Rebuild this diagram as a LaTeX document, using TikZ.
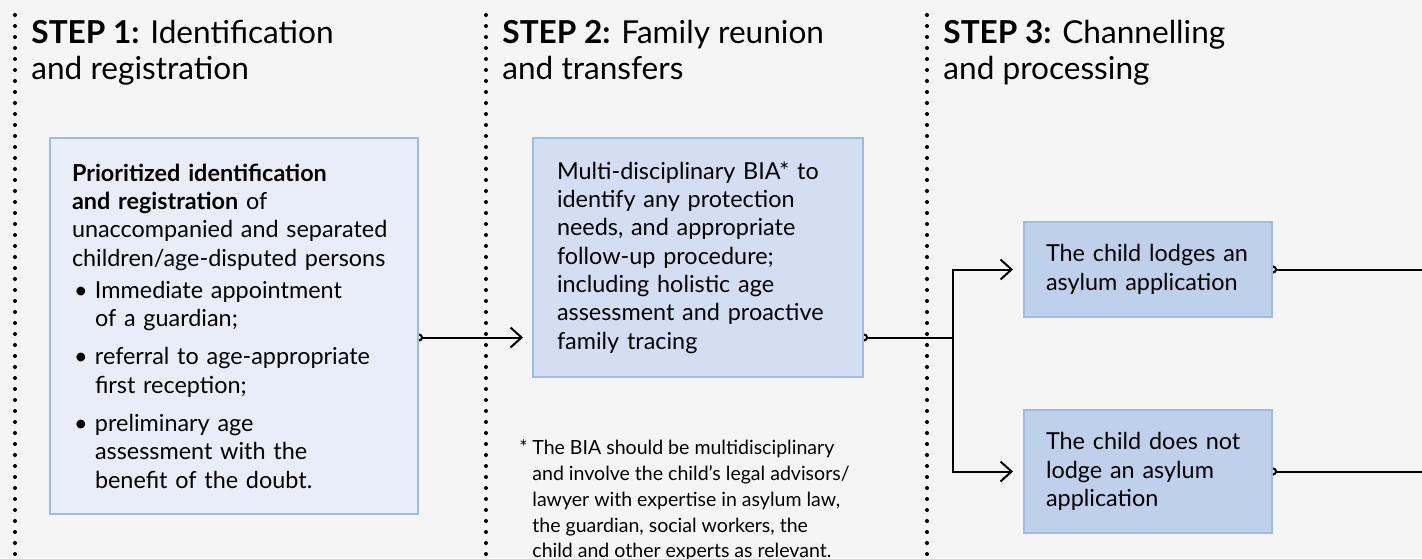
\documentclass[tikz,border=0pt]{standalone}
\usepackage{fontspec}
\setmainfont{Lato}
\usetikzlibrary{positioning,arrows.meta,backgrounds,calc}

\definecolor{pagebg}{HTML}{F5F5F5}
\definecolor{boxline}{HTML}{9EBBE5}
\definecolor{fillone}{HTML}{E9EDF8}
\definecolor{filltwo}{HTML}{D3DEF2}
\definecolor{fillthree}{HTML}{BFD0EB}

\newcommand{\bul}{\makebox[11.5pt][l]{\hspace{1pt}\textbullet}}
\newcommand{\bulgap}{\hspace*{11.5pt}}

\tikzset{
  stepbox/.style={draw=boxline, line width=1pt, anchor=north west, align=left,
    inner ysep=0pt, font=\fontsize{11.7}{14.15}\selectfont},
  steptitle/.style={anchor=base west, align=left, inner sep=0pt,
    font=\fontsize{15.8}{18}\selectfont},
  stepline/.style={line width=2pt, line cap=round, dash pattern=on 0pt off 5.5pt},
  wire/.style={line width=1pt},
  conn/.style={wire, {Circle[open,length=4pt]}-{Straight Barb[length=5.5pt,width=10pt]},
    shorten <=-2pt, shorten >=4.5pt},
  tail/.style={wire, {Circle[open,length=4pt]}-, shorten <=-2pt},
  head/.style={wire, -{Straight Barb[length=5.5pt,width=10pt]}, shorten >=5pt}
}

\begin{document}
\begin{tikzpicture}[x=0.5pt,y=-0.5pt]
\useasboundingbox (0,0) rectangle (1422,558);

% step borders
\foreach \x in {15,486,927}{
	\draw[stepline] (\x,15) -- (\x,562);
}

% headings (base = last line)
\node[steptitle] (stepone) at (31,79) {\textbf{STEP 1:} Identification\\and registration};
\node[steptitle] (steptwo) at (502,79) {\textbf{STEP 2:} Family reunion\\and transfers};
\node[steptitle] (stepthree) at (943,79) {\textbf{STEP 3:} Channelling\\and processing};

% step 1
\node[stepbox, fill=fillone, text width=162pt, inner xsep=11pt, minimum height=188pt] (identify) at (49,137) {%
\textbf{Prioritized identification}\\
\textbf{and registration} of\\
unaccompanied and separated\\
children/age-disputed persons\\[2pt]
\bul Immediate appointment\\
\bulgap of a guardian;\\[5pt]
\bul referral to age-appropriate\\
\bulgap first reception;\\[5pt]
\bul preliminary age\\
\bulgap assessment with the\\
\bulgap benefit of the doubt.};

% step 2
\node[stepbox, fill=filltwo, text width=141pt, inner xsep=12pt, minimum height=119.5pt] (assess) at (532,137) {%
Multi-disciplinary BIA* to\\
identify any protection\\
needs, and appropriate\\
follow-up procedure;\\
including holistic age\\
assessment and proactive\\
family tracing};

\node[anchor=base west, align=left, inner sep=0pt, font=\fontsize{9.77}{12.85}\selectfont] (bianote) at (519,557.7) {%
\makebox[6.5pt][l]{*}The BIA should be multidisciplinary\\
\hspace*{6.5pt}and involve the child’s legal advisors/\\
\hspace*{6.5pt}lawyer with expertise in asylum law,\\
\hspace*{6.5pt}the guardian, social workers, the\\
\hspace*{6.5pt}child and other experts as relevant.};

% step 3
\node[stepbox, fill=fillthree, text width=102pt, inner xsep=11pt, minimum height=47.5pt] (lodge) at (1023,221) {%
The child lodges an\\
asylum application};
\node[stepbox, fill=fillthree, text width=102pt, inner xsep=11pt, minimum height=61.5pt] (nolodge) at (1023,409) {%
The child does not\\
lodge an asylum\\
application};

\coordinate (row) at (0,337.5);
\coordinate (split) at (953,337.5);
\coordinate (rim) at (1422,0);

\begin{scope}[on background layer]
\fill[pagebg] (0,0) rectangle (1422,558);
\draw[conn] (identify.east |- row) -- (assess.west |- row);
\draw[tail] (assess.east |- row) -- (split);
\draw[head] (split) |- (lodge.west);
\draw[head] (split) |- (nolodge.west);
\draw[tail] (lodge.east) -- (lodge.east -| rim);
\draw[tail] (nolodge.east) -- (nolodge.east -| rim);
\end{scope}

\end{tikzpicture}
\end{document}
